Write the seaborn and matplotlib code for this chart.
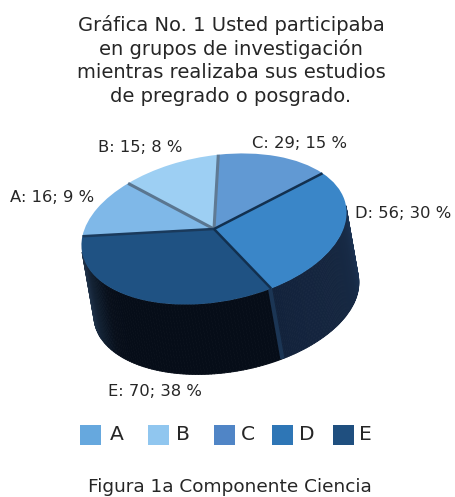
import numpy as np
import matplotlib
matplotlib.use("Agg")
import matplotlib.pyplot as plt
from matplotlib.patches import Rectangle
from matplotlib.collections import PolyCollection
from matplotlib.transforms import Affine2D
import seaborn as sns

# ---- data ----
categories = ["A", "B", "C", "D", "E"]
values = [16, 15, 29, 56, 70]
percents = [9, 8, 15, 30, 38]
title_lines = ["Gráfica No. 1 Usted participaba", "en grupos de investigación",
               "mientras realizaba sus estudios", "de pregrado o posgrado."]
caption = "Figura 1a Componente Ciencia"

# ---- styles ----
top_colors = ["#7fb8e8", "#9dcff3", "#6199d3", "#3a86c8", "#1f5283"]
legend_colors = ["#66a8de", "#90c6ef", "#5085c6", "#2e76b6", "#1f4f7f"]
wall_ramps = {
    "A": ["#26394f", "#26394f"],
    "E": ["#26394f", "#1a2b40", "#0f1c2c", "#080f1b", "#060d18", "#060d18", "#060d18", "#060d18",
          "#060d18", "#060d18", "#060d18", "#060d18"],
    "D": ["#12223b", "#14243e", "#15263f", "#172a45", "#1b3252"],
}
seam_colors = ["#1a3a5c", "#5a7690", "#5f7a94", "#12304f", "#12304f"]

W, H = 455, 497
sns.set_theme(style="white")
plt.rcParams["font.family"] = ["DejaVu Sans"]
fig = plt.figure(figsize=(W / 100, H / 100), dpi=100)
ax = fig.add_axes([0, 0, 1, 1])
TEXT = "#262626"

# ---- pie ----
CX, CY, RX, RY, TILT = 214, H - 229, 134, 73, 10
DEPTH = 71
START = 152


def warp(t):
    """3D view distortion of a pie angle (degrees)."""
    return (t + 12 * np.cos(np.radians(2 * (t - 160)))
            + 5 * np.cos(np.radians(t - 230)) + 3)


view = Affine2D().scale(RX, RY).rotate_deg(TILT).translate(CX, CY)
drop = Affine2D().scale(RX, RY).translate(0, -DEPTH).rotate_deg(TILT).translate(CX, CY)

wedges, _ = ax.pie(values, colors=top_colors, startangle=START, counterclock=False,
                   radius=1, wedgeprops=dict(linewidth=0))

fractions = np.array(values) / sum(values)
edges = START - 360 * np.concatenate([[0], np.cumsum(fractions)])
edges = warp(edges)  # boundaries, clockwise from the A/E seam

# side walls
for i, name in enumerate(categories):
    t_hi, t_lo = edges[i], edges[i + 1]
    # keep the arc part on the visible front half (-180..0)
    for shift in (0, 360, -360):
        lo, hi = max(t_lo + shift, -180), min(t_hi + shift, 0)
        if hi <= lo or name not in wall_ramps:
            continue
        ts = np.linspace(lo, hi, 80)
        c, s = np.cos(np.radians(ts)), np.sin(np.radians(ts))
        up = view.transform(np.c_[c, s])
        dn = drop.transform(np.c_[c, s])
        quads = [[up[k], up[k + 1], dn[k + 1], dn[k]] for k in range(len(ts) - 1)]
        ramp = sns.blend_palette(wall_ramps[name], n_colors=len(quads))
        ax.add_collection(PolyCollection(quads, facecolors=ramp, edgecolors=ramp,
                                         linewidths=0.6, zorder=2))

# top faces
for i, w in enumerate(wedges):
    w.set_theta1(edges[i + 1])
    w.set_theta2(edges[i])
    w.set_transform(view + ax.transData)
    w.set_zorder(3)

# seams between slices
for i in [1, 2, 0, 3, 4]:
    t = np.radians(edges[i])
    p = view.transform([[0, 0], [np.cos(t), np.sin(t)]])
    ax.plot(p[:, 0], p[:, 1], color=seam_colors[i], lw=2.2 if i in (1, 2) else 1.8,
            solid_capstyle="butt", zorder=4)

# cut face between the E and D walls
t = np.radians(edges[4] - 0.5)
p_up = view.transform([[np.cos(t), np.sin(t)]])[0]
p_dn = drop.transform([[np.cos(t), np.sin(t)]])[0]
ax.plot([p_up[0], p_dn[0]], [p_up[1], p_dn[1]], color="#1b3554", lw=3,
        solid_capstyle="butt", zorder=2.5)

# ---- data labels ----
label_pos = [(52.5, 198), (140.5, 147), (299.5, 143), (403.5, 214), (154.5, 392)]
for name, v, pc, (lx, ly) in zip(categories, values, percents, label_pos):
    ax.text(lx, H - ly, f"{name}: {v}; {pc} %", ha="center", va="center",
            fontsize=11.8, color=TEXT)

# ---- title ----
title_y = [25, 49, 73, 97]
for line, ty in zip(title_lines, title_y):
    ax.text(231, H - ty, line, ha="center", va="center", fontsize=14.0, color=TEXT)

# ---- legend ----
swatch_x = [80, 148, 214, 272, 333]
text_x = [117, 182.5, 248, 306.5, 365]
for name, col, sx, tx in zip(categories, legend_colors, swatch_x, text_x):
    ax.add_patch(Rectangle((sx, H - 445), 20.5, 20, facecolor=col, edgecolor="none"))
    ax.text(tx, H - 434.5, name, ha="center", va="center", fontsize=14.6, color=TEXT)

# ---- caption ----
ax.text(230, H - 487, caption, ha="center", va="center", fontsize=13.3, color=TEXT)

ax.set_aspect("auto")
ax.set_xlim(0, W)
ax.set_ylim(0, H)
ax.axis("off")
fig.savefig("out.png", dpi=100, facecolor="white")
